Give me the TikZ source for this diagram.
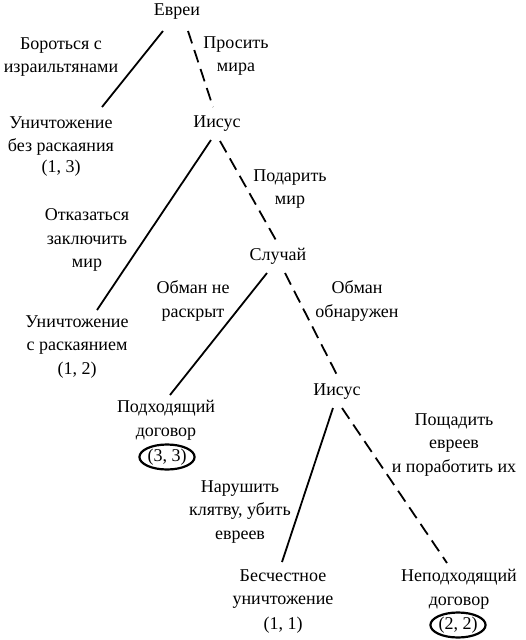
\documentclass[tikz,border=0pt]{standalone}
\usepackage{fontspec}
\setmainfont{Liberation Serif}
\usetikzlibrary{calc,shapes.geometric}
\begin{document}
\begin{tikzpicture}[x=1pt,y=-1pt,
  txt/.style={align=center,inner sep=0pt,font=\fontsize{18}{23.5}\selectfont},
  pay/.style={txt},
  circ/.style={txt,draw,ellipse,line width=2.2pt,minimum width=48pt,minimum height=25pt},
  act/.style={line width=1.8pt},
  mixed/.style={line width=1.8pt,dash pattern=on 13pt off 7pt}]
\useasboundingbox (0,0) rectangle (525,640);
% decision nodes
\node[txt] (evrei) at (177,12) {Евреи};
\node[txt] (jes1) at (217,124) {Иисус};
\node[txt] (chance) at (278,256) {Случай};
\node[txt] (jes2) at (337,392) {Иисус};
% terminal nodes
\node[txt] (u1) at (61,136) {Уничтожение\\без раскаяния};
\node[pay] (u1p) at (61,168) {(1, 3)};
\node[txt] (u2) at (77,335) {Уничтожение\\с раскаянием};
\node[pay] (u2p) at (77,370) {(1, 2)};
\node[txt] (good) at (166,420) {Подходящий\\договор};
\node[circ] (goodp) at (167,457) {(3, 3)};
\node[txt] (dis) at (283,589) {Бесчестное\\уничтожение};
\node[pay] (disp) at (283,625) {(1, 1)};
\node[txt] (bad) at (459,589) {Неподходящий\\договор};
\node[circ] (badp) at (458,625) {(2, 2)};
% action labels
\node[txt] (l1) at (61,57) {Бороться с\\израильтянами};
\node[txt] (l2) at (236,56) {Просить\\мира};
\node[txt] (l3) at (290,189) {Подарить\\мир};
\node[txt] (l4) at (87,240) {Отказаться\\заключить\\мир};
\node[txt] (l5) at (193,301) {Обман не\\раскрыт};
\node[txt] (l6) at (357,301) {Обман\\обнаружен};
\node[txt] (l7) at (454,445) {Пощадить\\евреев\\и поработить их};
\node[txt] (l8) at (240,512) {Нарушить\\клятву, убить\\евреев};
% connectors
\draw[act] ($(evrei)+(-14,19)$) -- ($(u1)+(41,-29)$);
\draw[mixed] ($(evrei)+(11,19)$) -- ($(jes1)+(-4,-17)$);
\draw[act] ($(jes1)+(-6,16)$) -- ($(u2)+(20,-25)$);
\draw[mixed] ($(jes1)+(3,17)$) -- ($(chance)+(-1,-14)$);
\draw[act] ($(chance)+(-11,17)$) -- ($(good)+(4,-25)$);
\draw[mixed] ($(chance)+(7,17)$) -- ($(jes2)+(1,-15)$);
\draw[act] ($(jes2)+(-4,16)$) -- ($(dis)+(-1,-27)$);
\draw[mixed] ($(jes2)+(5,16)$) -- ($(bad)+(-12,-26)$);
\end{tikzpicture}
\end{document}
